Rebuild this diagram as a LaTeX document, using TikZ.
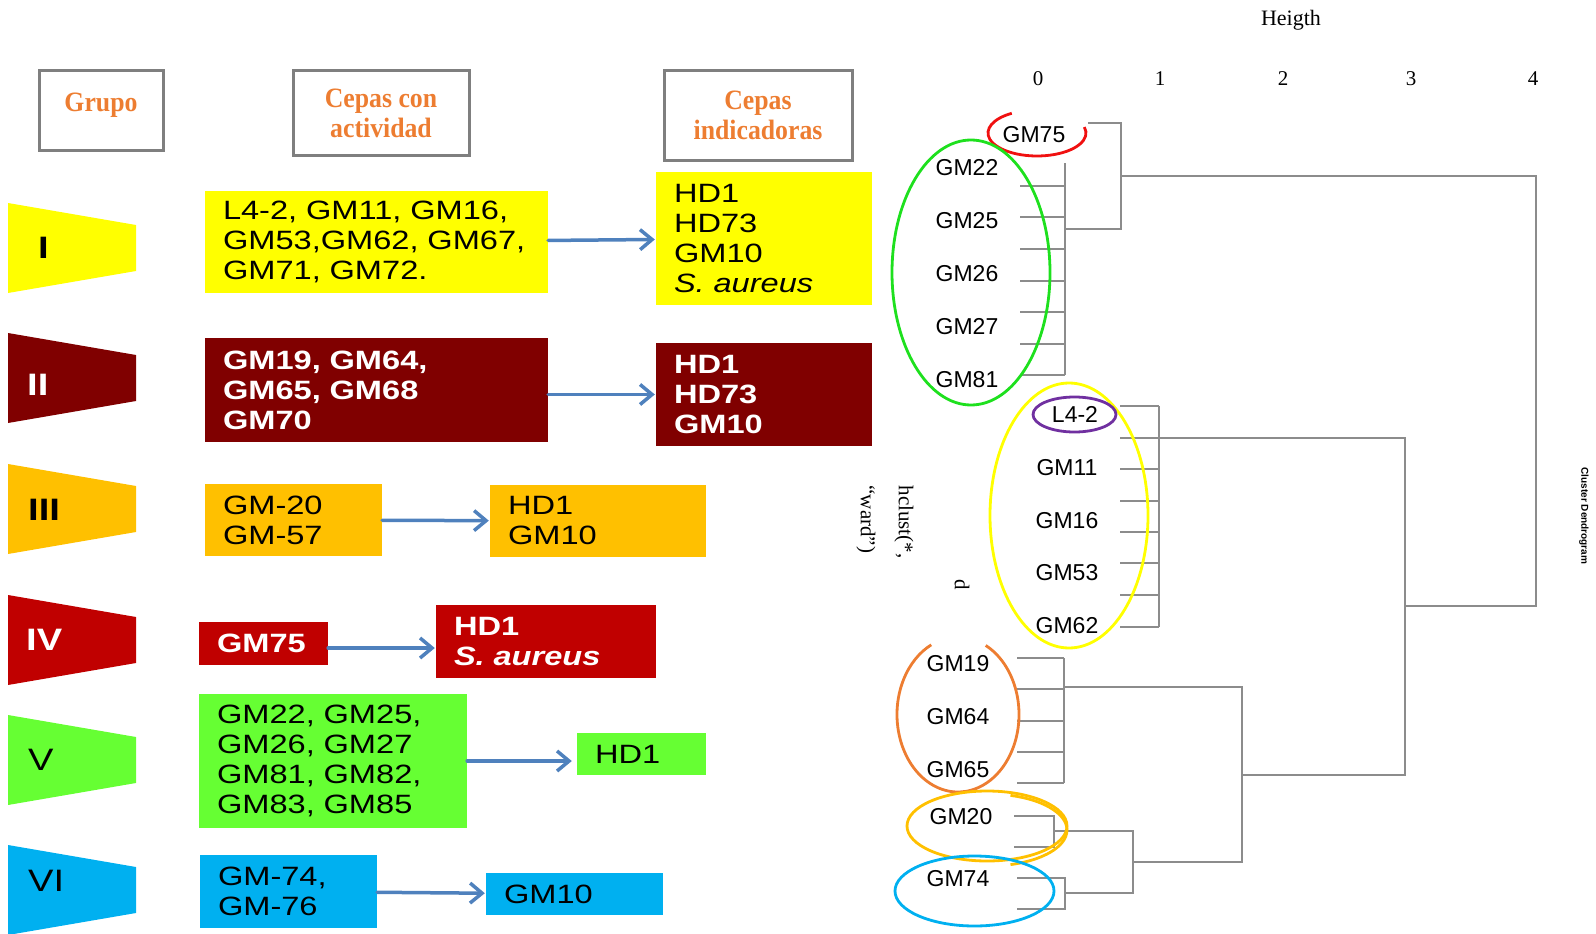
\documentclass[tikz,border=0pt]{standalone}
\usepackage{fontspec}
\setmainfont{Liberation Serif}
\newfontfamily\boxfont[FakeStretch=1.23]{Liberation Sans}
\newfontfamily\leaffont{Liberation Sans}
\newfontfamily\titlefont[FakeStretch=0.92]{Liberation Serif}
\usetikzlibrary{positioning,calc,arrows.meta}
\definecolor{grpI}{HTML}{FFFF00}
\definecolor{grpII}{HTML}{800000}
\definecolor{grpIII}{HTML}{FFC000}
\definecolor{grpIV}{HTML}{C00000}
\definecolor{grpV}{HTML}{66FF33}
\definecolor{grpVI}{HTML}{00B0F0}
\definecolor{titleorange}{HTML}{ED7D31}
\definecolor{framegray}{HTML}{7F7F7F}
\definecolor{arrowblue}{HTML}{4F81BD}
\definecolor{dendro}{HTML}{8C8C8C}
\definecolor{ringred}{HTML}{F01010}
\definecolor{ringgreen}{HTML}{1EE01E}
\definecolor{ringpurple}{HTML}{7030A0}

\begin{document}
\begin{tikzpicture}[x=1pt,y=-1pt,
    headbox/.style={draw=framegray, line width=3pt, align=center, text=titleorange,
                 font=\titlefont\bfseries\fontsize{28}{30}\selectfont},
    cepabox/.style={inner xsep=18pt, inner ysep=0pt, align=left,
                 font=\boxfont\fontsize{26.5}{30}\selectfont},
    boldbox/.style={cepabox, text=white, font=\boxfont\bfseries\fontsize{26.5}{30}\selectfont},
    grupotext/.style={anchor=base west, inner sep=0pt,
                 font=\boxfont\fontsize{31}{31}\selectfont},
    link/.style={arrowblue, line width=3.5pt, line cap=round, shorten >=1pt,
                 -{Straight Barb[length=12pt,width=20pt,line width=3.5pt]}},
    leaf/.style={font=\leaffont\fontsize{23}{23}\selectfont, inner sep=0pt},
    tree/.style={dendro, line width=1.3pt},
    ring/.style={line width=2.8pt},
  ]
  \useasboundingbox (0,0) rectangle (1596,934);

  \node[headbox, minimum width=124pt, minimum height=79pt] (h1) at (101,110.5) {\raisebox{17pt}{Grupo}};
  \node[headbox, minimum width=176pt, minimum height=84pt] (h2) at (381,113) {Cepas con\\actividad};
  \node[headbox, minimum width=188pt, minimum height=89pt] (h3) at (758,115.5) {Cepas\\indicadoras};

  \foreach \cy/\col/\num/\tcol/\tx/\tb/\fw in {248/grpI/I/black/38/258/\bfseries,
      378/grpII/II/white/27/395/\bfseries, 509/grpIII/III/black/28/520/\bfseries,
      640/grpIV/IV/white/26/650/\bfseries, 760/grpV/V/black/28/770/\mdseries,
      890/grpVI/VI/black/28/891/\mdseries}{
    \fill[\col] (8,\cy-45) -- (136,\cy-23) -- (136,\cy+23) -- (8,\cy+45) -- cycle;
    \node[grupotext, text=\tcol] (g\num) at (\tx,\tb) {\fw\num};
  }

  \node[cepabox, fill=grpI, text width=307pt, minimum height=102pt] (a1) at (376.5,242)
    {L4-2, GM11, GM16,\\GM53,GM62, GM67,\\GM71, GM72.};
  \node[cepabox, fill=grpI, text width=180pt, minimum height=133pt] (b1) at (764,238.5)
    {HD1\\HD73\\GM10\\\textit{S. aureus}};
  \node[boldbox, fill=grpII, text width=307pt, minimum height=104pt] (a2) at (376.5,390)
    {GM19, GM64,\\GM65, GM68\\GM70};
  \node[boldbox, fill=grpII, text width=180pt, minimum height=103pt] (b2) at (764,394.5)
    {HD1\\HD73\\GM10};
  \node[cepabox, fill=grpIII, text width=141pt, minimum height=72pt] (a3) at (293.5,520)
    {GM-20\\GM-57};
  \node[cepabox, fill=grpIII, text width=180pt, minimum height=72pt] (b3) at (598,521)
    {HD1\\GM10};
  \node[boldbox, fill=grpIV, text width=93pt, minimum height=43pt] (a4) at (263.5,643.5) {GM75};
  \node[boldbox, fill=grpIV, text width=184pt, minimum height=73pt] (b4) at (546,641.5)
    {HD1\\\textit{S. aureus}};
  \node[cepabox, fill=grpV, text width=232pt, minimum height=134pt] (a5) at (333,761)
    {GM22, GM25,\\GM26, GM27\\GM81, GM82,\\GM83, GM85};
  \node[cepabox, fill=grpV, text width=93pt, minimum height=42pt] (b5) at (641.5,754) {HD1};
  \node[cepabox, fill=grpVI, text width=141pt, minimum height=73pt] (a6) at (288.5,891.5)
    {GM-74,\\GM-76};
  \node[cepabox, fill=grpVI, text width=141pt, minimum height=42pt] (b6) at (574.5,894) {GM10};

  \draw[link] (a1) -- (b1);
  \draw[link] (a2.east |- b2) -- (b2);
  \draw[link] (a3) -- (b3);
  \draw[link] ([yshift=-4.5pt]a4.east) -- ([yshift=-4.5pt]a4.east -| b4.west);
  \draw[link, shorten >=5pt] (a5.east) -- (a5.east -| b5.west);
  \draw[link] (a6) -- (b6);

  % dendrograma
  \node[font=\fontsize{22}{22}\selectfont] (heigth) at (1291,20) {Heigth};
  \foreach \v/\x in {0/1038,1/1160,2/1283,3/1411,4/1533}
    \node[font=\fontsize{21}{21}\selectfont] (tick\v) at (\x,79) {\v};
  \node[rotate=-90, align=left, font=\fontsize{21}{38}\selectfont] (hcl) at (885,522) {hclust(*,\\“ward”)};
  \node[rotate=-90, font=\fontsize{21}{21}\selectfont] (dlab) at (962,585) {d};
  \node[rotate=-90, font=\leaffont\bfseries\fontsize{10}{10}\selectfont] (titulo) at (1584,516) {Cluster Dendrogram};

  \node[leaf] (t75) at (1034,135) {GM75};
  \node[leaf] (t22) at (967,168) {GM22};
  \node[leaf] (t25) at (967,221) {GM25};
  \node[leaf] (t26) at (967,274) {GM26};
  \node[leaf] (t27) at (967,327) {GM27};
  \node[leaf] (t81) at (967,380) {GM81};
  \node[leaf] (tL4) at (1075,414) {L4-2};
  \node[leaf] (t11) at (1067,468) {GM11};
  \node[leaf] (t16) at (1067,521) {GM16};
  \node[leaf] (t53) at (1067,573) {GM53};
  \node[leaf] (t62) at (1067,626) {GM62};
  \node[leaf] (t19) at (958,664) {GM19};
  \node[leaf] (t64) at (958,717) {GM64};
  \node[leaf] (t65) at (958,770) {GM65};
  \node[leaf] (t20) at (961,817) {GM20};
  \node[leaf] (t74) at (958,879) {GM74};

  \draw[tree] (1088,123) -- (1121,123) -- (1121,229) -- (1065,229);
  \draw[tree] (1065,163) -- (1065,375);
  \foreach \y in {186,217,249,281,312,344,375} \draw[tree] (1020,\y) -- (1065,\y);
  \draw[tree] (1121,176) -- (1536,176) -- (1536,606) -- (1405,606);
  \draw[tree] (1159,406) -- (1159,627);
  \foreach \y in {406,438,469,501,532,563,595,627} \draw[tree] (1120,\y) -- (1159,\y);
  \draw[tree] (1159,438) -- (1405,438) -- (1405,775) -- (1242,775);
  \draw[tree] (1064,658) -- (1064,783);
  \foreach \y in {658,689,721,752,783} \draw[tree] (1017,\y) -- (1064,\y);
  \draw[tree] (1064,687) -- (1242,687) -- (1242,862) -- (1133,862);
  \draw[tree] (1054,831) -- (1133,831) -- (1133,893) -- (1065,893);
  \draw[tree] (1014,816) -- (1054,816) -- (1054,847) -- (1014,847);
  \draw[tree] (1017,878) -- (1065,878) -- (1065,909) -- (1017,909);

  \draw[ring, ringred] (1037,133) ++(-15:49 and 23) arc[start angle=-15, end angle=239, x radius=49, y radius=23];
  \draw[ring, ringgreen] (971,272.5) ellipse[x radius=79, y radius=132.5];
  \draw[ring, grpI] (1069,515.5) ellipse[x radius=79, y radius=132.5];
  \draw[ring, ringpurple] (1074.5,414.5) ellipse[x radius=41.5, y radius=17.5];
  \draw[ring, titleorange] (958,714.5) ++(-63:61 and 77.5) arc[start angle=-63, end angle=244, x radius=61, y radius=77.5];
  \draw[ring, grpIII] (987,826) ellipse[x radius=80, y radius=35];
  \draw[ring, grpIII] (989,830) ++(-74:78 and 36) arc[start angle=-74, end angle=74, x radius=78, y radius=36];
  \draw[ring, grpVI] (974.5,891) ellipse[x radius=79.5, y radius=35];
\end{tikzpicture}
\end{document}
